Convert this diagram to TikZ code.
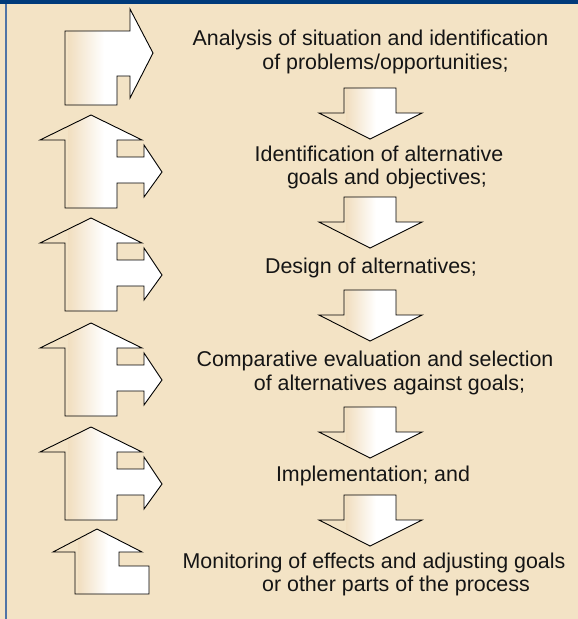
\documentclass[tikz,border=0pt]{standalone}
\usepackage{fontspec}
\setmainfont{Liberation Sans}
\definecolor{bg}{HTML}{F3E3C5}
\definecolor{tan}{HTML}{F1DEBF}
\definecolor{navy}{HTML}{003A7A}
\definecolor{steel}{HTML}{5074A6}
\definecolor{ink}{HTML}{151515}
\tikzset{
  outl/.style={draw=black, line width=0.9pt, line join=miter},
  lbl/.style={anchor=base, inner sep=0pt, text=ink, font=\fontsize{21.4}{24}\selectfont}
}
\newcommand\gshape[3]{%
  \begin{scope}
    \clip #1;
    \shade[left color=tan, right color=white] (#2,0) rectangle (#3,619);
    \fill[white] (#3,0) rectangle (600,619);
  \end{scope}
  \draw[outl] #1;}
\begin{document}
\begin{tikzpicture}[x=1pt,y=-1pt]
\useasboundingbox (0,0) rectangle (578,619);
\fill[bg] (0,0) rectangle (578,619);
\fill[navy] (0,0) rectangle (578,3.5);
\fill[steel] (5,3.5) rectangle (7.2,619);
% left shapes
\gshape{(65,31) -- (130,31) -- (130,9) -- (153,53) -- (130,98) -- (130,76) -- (117,76) -- (117,105) -- (65,105) -- cycle}{68}{104}
\foreach \P in {115,218,323,427}{
  \gshape{(91,\P) -- (142,\P+25) -- (117,\P+25) -- (117,\P+42) -- (144,\P+42) -- (144,\P+30) -- (162,\P+57) -- (144,\P+82) -- (144,\P+68) -- (117,\P+68) -- (117,\P+93) -- (65,\P+93) -- (65,\P+25) -- (40,\P+25) -- cycle}{68}{104}
}
\gshape{(97,529) -- (142,552) -- (119,552) -- (119,566) -- (149,566) -- (149,594) -- (75,594) -- (75,552) -- (53,552) -- cycle}{78}{108}
% down arrows
\foreach \T in {88,197,290,407,495}{
  \gshape{(344,\T) -- (396,\T) -- (396,\T+25) -- (422,\T+25) -- (370,\T+51) -- (319,\T+25) -- (344,\T+25) -- cycle}{346}{376}
}
% texts
\node[lbl] (a1) at (370.5,45) {Analysis of situation and identification};
\node[lbl] (a2) at (385.5,69) {of problems/opportunities;};
\node[lbl] (b1) at (379,161) {Identification of alternative};
\node[lbl] (b2) at (387,184) {goals and objectives;};
\node[lbl] (c1) at (371,273) {Design of alternatives;};
\node[lbl] (d1) at (375,366) {Comparative evaluation and selection};
\node[lbl] (d2) at (389.5,390) {of alternatives against goals;};
\node[lbl] (e1) at (373,481) {Implementation; and};
\node[lbl] (f1) at (374,568) {Monitoring of effects and adjusting goals};
\node[lbl] (f2) at (396,591) {or other parts of the process};
\end{tikzpicture}
\end{document}
